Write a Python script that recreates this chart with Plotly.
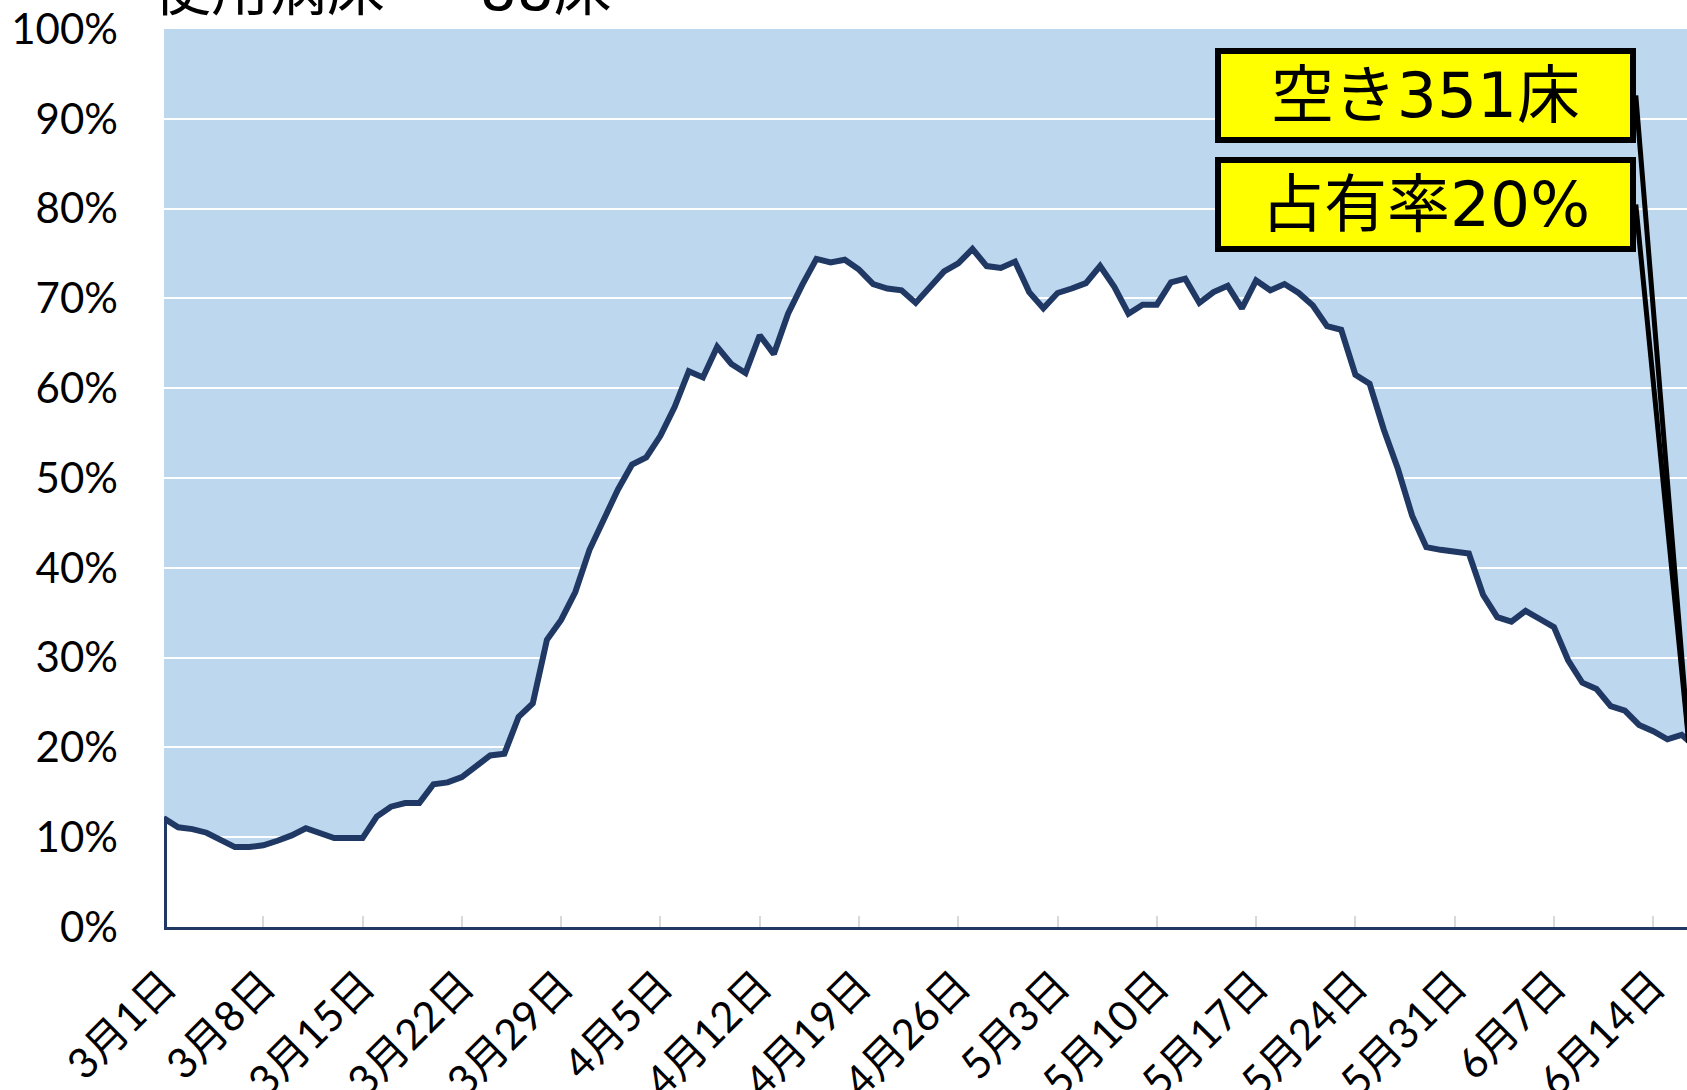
import pandas as pd
import plotly.graph_objects as go

# 病床占有率 (%) 3/1 - 6/17
occupancy = [
    12.1, 11.1, 10.9, 10.5, 9.7, 8.9, 8.9, 9.1, 9.6, 10.2,
    11.0, 10.4, 9.9, 9.9, 9.9, 12.3, 13.4, 13.8, 13.8, 15.9,
    16.1, 16.7, 17.8, 19.1, 19.3, 23.4, 24.9, 32.0, 34.2, 37.3,
    42.0, 45.5, 48.7, 51.5, 52.3, 54.7, 57.9, 61.9, 61.2, 64.6,
    62.7, 61.7, 65.9, 63.8, 68.3, 71.5, 74.4, 74.0, 74.3, 73.2,
    71.6, 71.1, 70.9, 69.5, 71.2, 73.0, 73.9, 75.5, 73.6, 73.4,
    74.1, 70.7, 68.9, 70.6, 71.1, 71.7, 73.6, 71.3, 68.3, 69.3,
    69.3, 71.8, 72.2, 69.5, 70.7, 71.4, 68.9, 72.0, 70.9, 71.6,
    70.6, 69.2, 66.9, 66.5, 61.5, 60.5, 55.4, 51.0, 45.8, 42.3,
    42.0, 41.8, 41.6, 37.0, 34.5, 34.0, 35.2, 34.3, 33.4, 29.7,
    27.2, 26.5, 24.6, 24.1, 22.5, 21.8, 20.9, 21.4, 20.0,
]
dates = pd.date_range("2021-03-01", periods=len(occupancy), freq="D")

tick_labels = ["3月1日", "3月8日", "3月15日", "3月22日", "3月29日", "4月5日",
               "4月12日", "4月19日", "4月26日", "5月3日", "5月10日", "5月17日",
               "5月24日", "5月31日", "6月7日", "6月14日"]
tick_dates = pd.date_range("2021-03-01", periods=len(tick_labels), freq="7D")

title_text = "使用病床　  88床"
box_texts = ["空き351床", "占有率20%"]

NAVY = "#203864"
BG = "#BDD7EE"
LABEL_FONT = "Lato, 'Noto Sans CJK JP'"
BOX_FONT = "'DejaVu Sans', 'Noto Sans CJK JP'"

fig = go.Figure()
# area outline starts at the baseline like the original area chart
fig.add_trace(go.Scatter(x=[dates[0]] + list(dates), y=[0] + occupancy,
                         mode="lines", fill="tozeroy", fillcolor="white",
                         line=dict(color=NAVY, width=6), hoverinfo="skip",
                         showlegend=False))

fig.update_xaxes(range=[dates[0], dates[0] + pd.Timedelta(days=107.38)],
                 tickvals=tick_dates, ticktext=tick_labels, tickangle=-45,
                 ticks="inside", ticklen=11, tickwidth=2, tickcolor="#D9D9D9",
                 ticklabelstandoff=14, automargin=False,
                 showline=True, linecolor=NAVY, linewidth=3,
                 showgrid=False, zeroline=False,
                 tickfont=dict(family=LABEL_FONT, size=42, color="black"))
fig.update_yaxes(range=[0, 100], dtick=10, ticksuffix="%",
                 showgrid=True, gridcolor="white", gridwidth=2,
                 zeroline=False, showline=False, ticks="",
                 ticklabelstandoff=45, automargin=False,
                 tickfont=dict(family=LABEL_FONT, size=42, color="black"))

annotations = [dict(text=title_text, xref="paper", yref="paper", x=-0.0085, y=1.043,
                    xanchor="left", yanchor="middle", showarrow=False,
                    font=dict(family=BOX_FONT, size=58, color="black"))]
for txt, yc in zip(box_texts, [0.926, 0.8046]):
    annotations.append(dict(text=txt, xref="paper", yref="paper", x=0.8283, y=yc,
                            xanchor="center", yanchor="middle", showarrow=False,
                            width=409, height=83, bgcolor="#FFFF00",
                            bordercolor="black", borderwidth=6, borderpad=0,
                            font=dict(family=BOX_FONT, size=63, color="black")))

# callout lines from the boxes down to the latest point
shapes = []
for dy in [652, 543]:
    shapes.append(dict(type="line", xref="x", yref="y",
                       xsizemode="pixel", ysizemode="pixel",
                       xanchor=dates[-1], yanchor=occupancy[-1],
                       x0=-60, y0=dy, x1=-7, y1=5,
                       line=dict(color="black", width=5)))

fig.update_layout(width=1687, height=1090,
                  margin=dict(l=164, r=0, t=29, b=163),
                  plot_bgcolor=BG, paper_bgcolor="white",
                  annotations=annotations, shapes=shapes)

fig.write_html("out.html", config={"displayModeBar": False},
               post_script="document.body.style.margin = '0';")
